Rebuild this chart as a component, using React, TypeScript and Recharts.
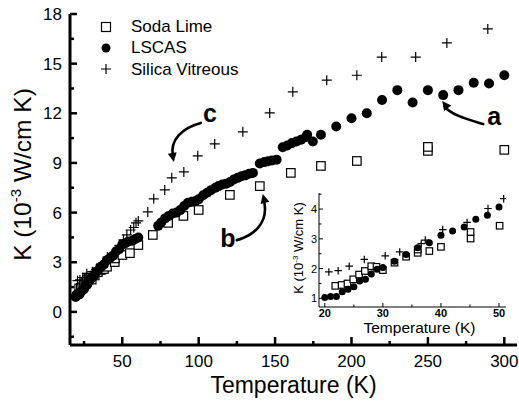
import {
  ScatterChart, Scatter, XAxis, YAxis, Legend, ReferenceDot, Label,
} from 'recharts';

const FONT = 'Arial, "Liberation Sans", Helvetica, sans-serif';

// Soda Lime (hollow squares): temperature (K), conductivity (1e-3 W/cm K)
const sodaT = [21.8, 22.9, 23.9, 24.9, 25.9, 26.9, 28, 28.9, 30, 32, 34, 36, 36, 38, 40, 45.1, 45.1, 50.1,
  55, 60.5, 70, 80, 90, 100, 120.4, 140, 160.3, 180, 203.5, 250, 250, 300];
const sodaK = [1.42, 1.45, 1.5, 1.64, 1.8, 1.92, 2.08, 2.06, 1.95, 2.2, 2.4, 2.53, 2.64, 2.59, 2.73, 3.01, 3.23, 3.44,
  3.55, 4.04, 4.65, 5.38, 5.8, 6.16, 7.07, 7.6, 8.4, 8.82, 9.12, 9.73, 9.97, 9.79];

// LSCAS (filled circles)
const lscasT = [19.5, 20, 21, 22, 23, 24, 25, 26, 27, 28, 29, 30, 32, 34, 36, 38, 40, 42, 44, 46, 48, 50,
  52, 54, 56.5, 58.5, 60.5,
  73.5, 75.5, 78, 80.5, 83, 85.5, 88, 90.5, 93, 95.5, 98, 100, 103, 105.5, 108, 111, 113, 115.5, 118,
  120.5, 123, 125.5, 128, 130.5, 133, 135.5, 140, 143, 145.5, 148, 151, 155, 158, 161, 164, 167, 170,
  171, 174.7, 180, 190, 200, 210, 220, 230, 240, 250, 260, 270, 280, 290, 300];
const lscasK = [0.9, 1.03, 1.06, 1.06, 1.22, 1.31, 1.39, 1.58, 1.64, 1.82, 1.98, 2.04, 2.25, 2.47, 2.7, 2.87, 3.12, 3.26, 3.4, 3.66, 3.79, 4.07,
  4.15, 4.25, 4.3, 4.4, 4.5,
  5.2, 5.4, 5.65, 5.8, 5.95, 6.0, 6.15, 6.4, 6.6, 6.65, 6.7, 6.8, 7.05, 7.2, 7.35, 7.5, 7.6, 7.7, 7.75,
  7.85, 8.0, 8.1, 8.2, 8.25, 8.35, 8.4, 8.97, 9.05, 9.1, 9.15, 9.2, 9.95, 10.05, 10.2, 10.3, 10.4, 10.55,
  10.7, 10.3, 10.7, 11.2, 11.7, 12.0, 12.8, 13.4, 12.65, 13.4, 13.1, 13.4, 13.85, 13.8, 14.3];

// Silica Vitreous (plus)
const silicaT = [20.7, 22.3, 24.2, 26.8, 30.4, 32.9, 36.6, 37.3, 40.3, 44.5, 48.1, 50.8,
  53, 55.5, 57.5, 59, 60.5, 66.7, 70.6, 77.8, 82.4, 90.3, 99.4, 110.5, 128.9, 146.5, 161.6,
  183.8, 203.5, 219.8, 242, 262.4, 289.2];
const silicaK = [1.89, 1.93, 2.08, 2.31, 2.43, 2.56, 2.84, 2.96, 3.31, 3.55, 4.02, 4.35,
  4.65, 4.95, 5.1, 5.38, 5.5, 6.04, 6.83, 7.37, 8.1, 8.46, 9.43, 10.15, 10.88, 12.02, 13.3,
  14.0, 14.3, 15.4, 15.4, 16.25, 17.1];

const seriesNames = ['Soda Lime', 'LSCAS', 'Silica Vitreous'];

const mainXTicks = [25, 50, 75, 100, 125, 150, 175, 200, 225, 250, 275, 300];
const mainYTicks = [-1.5, 0, 1.5, 3, 4.5, 6, 7.5, 9, 10.5, 12, 13.5, 15, 16.5, 18];
const insetXTicks = [20, 25, 30, 35, 40, 45, 50];
const insetYTicks = [1, 1.5, 2, 2.5, 3, 3.5, 4, 4.5];

const INSET_MIN_T = 19.5;
const INSET_MAX_T = 51.2;

const pts = (ts: number[], ks: number[]) => ts.map((t, i) => ({ t, k: ks[i] }));
const sodaData = pts(sodaT, sodaK);
const lscasData = pts(lscasT, lscasK);
const silicaData = pts(silicaT, silicaK);
const zoomIn = (d: { t: number; k: number }[]) => d.filter(p => p.t >= INSET_MIN_T + 0.3 && p.t <= INSET_MAX_T);

type Kind = 'square' | 'circle' | 'plus';
const KIND: Record<string, Kind> = { 'Soda Lime': 'square', 'LSCAS': 'circle', 'Silica Vitreous': 'plus' };

function Marker({ kind, cx, cy, s }: { kind: Kind; cx: number; cy: number; s: number }) {
  if (kind === 'square') {
    return <rect x={cx - s / 2} y={cy - s / 2} width={s} height={s} fill="#fff" stroke="#000" strokeWidth={1.2} />;
  }
  if (kind === 'circle') return <circle cx={cx} cy={cy} r={s / 2} fill="#000" />;
  return <path d={`M${cx - s / 2},${cy}H${cx + s / 2}M${cx},${cy - s / 2}V${cy + s / 2}`} stroke="#000" strokeWidth={1.2} fill="none" />;
}
const shapeOf = (kind: Kind, s: number) => (p: any) => <Marker kind={kind} cx={p.cx} cy={p.cy} s={s} />;

type Side = 'bottom' | 'left' | 'top' | 'right';
// inward ticks, major/minor, optional label
const makeTick = (side: Side, isMajor: (v: number) => boolean, major: number, minor: number, sw: number,
  label?: { size: number; gap: number; weight?: string }) => (props: any) => {
  const { x, y, payload } = props;
  const v = payload.value as number;
  const m = isMajor(v);
  const len = m ? major : minor;
  const d = side === 'bottom' ? `M${x},${y}V${y - len}`
    : side === 'top' ? `M${x},${y}V${y + len}`
    : side === 'left' ? `M${x},${y}H${x + len}`
    : `M${x},${y}H${x - len}`;
  return (
    <g>
      <path d={d} stroke="#000" strokeWidth={sw} />
      {label && m && (side === 'bottom'
        ? <text x={x} y={y + label.gap} textAnchor="middle" fontSize={label.size} fontWeight={label.weight} fontFamily={FONT} fill="#000">{v}</text>
        : <text x={x - label.gap} y={y} dy="0.36em" textAnchor="end" fontSize={label.size} fontWeight={label.weight} fontFamily={FONT} fill="#000">{v}</text>)}
    </g>
  );
};

const YTitle = ({ viewBox, size, sup, dx, dy }: any) => {
  const cx = viewBox.x + dx;
  const cy = viewBox.y + viewBox.height / 2 + dy;
  return (
    <text x={cx} y={cy} transform={`rotate(-90 ${cx} ${cy})`} textAnchor="middle" fontFamily={FONT} fontSize={size} fill="#000">
      K (10<tspan dy={-size * 0.4} fontSize={sup}>-3</tspan><tspan dy={size * 0.4}> W/cm K)</tspan>
    </text>
  );
};

const head = (tx: number, ty: number, dx: number, dy: number, len = 9, w = 4.5) => {
  const L = Math.hypot(dx, dy);
  const ux = dx / L, uy = dy / L;
  const bx = tx - ux * len, by = ty - uy * len;
  return `${tx},${ty} ${bx - uy * w},${by + ux * w} ${bx + uy * w},${by - ux * w}`;
};

// arrow + letter, drawn relative to the data point it points at
const callout = (letter: string, d: string, tip: [number, number], dir: [number, number], at: [number, number]) => (p: any) => {
  const { cx, cy } = p;
  return (
    <g>
      <path d={d} transform={`translate(${cx},${cy})`} fill="none" stroke="#000" strokeWidth={2.6} strokeLinecap="round" />
      <polygon points={head(cx + tip[0], cy + tip[1], dir[0], dir[1])} fill="#000" />
      <text x={cx + at[0]} y={cy + at[1]} textAnchor="middle" fontSize={25} fontWeight="bold" fontFamily={FONT} fill="#000">{letter}</text>
    </g>
  );
};

const LegendBox = ({ payload }: any) => {
  const items = [...(payload || [])].sort((a: any, b: any) => seriesNames.indexOf(a.value) - seriesNames.indexOf(b.value));
  return (
    <div style={{ fontFamily: FONT, fontSize: 17, color: '#000' }}>
      {items.map((e: any) => (
        <div key={e.value} style={{ display: 'flex', alignItems: 'center', height: 21.3 }}>
          <svg width={18} height={14}><Marker kind={KIND[e.value]} cx={9} cy={7} s={KIND[e.value] === 'plus' ? 10 : 9} /></svg>
          <span style={{ marginLeft: 16, lineHeight: '21px' }}>{e.value}</span>
        </div>
      ))}
    </div>
  );
};

export default function App() {
  const axisLine = { stroke: '#000', strokeWidth: 3 };
  const thin = { stroke: '#000', strokeWidth: 1 };
  return (
    <div style={{ position: 'absolute', left: 0, top: 0, width: 519, height: 403, background: '#fff' }}>
      <ScatterChart width={519} height={403} margin={{ top: 14, right: 2, bottom: 0, left: 0 }}>
        <XAxis type="number" dataKey="t" domain={[15.8, 308.3]} ticks={mainXTicks} interval={0} allowDataOverflow
          height={58} tickSize={0} tickMargin={0} tickLine={false} axisLine={axisLine}
          tick={makeTick('bottom', v => v % 50 === 0, 8, 4, 2.5, { size: 17, gap: 22 })}>
          <Label value="Temperature (K)" position="insideBottom" offset={10} style={{ fontSize: 23, fontFamily: FONT, fill: '#000' }} />
        </XAxis>
        <XAxis xAxisId="top" orientation="top" type="number" domain={[15.8, 308.3]} height={0} tick={false} tickLine={false} axisLine={axisLine} />
        <YAxis type="number" dataKey="k" domain={[-2, 18]} ticks={mainYTicks} interval={0} allowDataOverflow
          width={70} tickSize={0} tickMargin={0} tickLine={false} axisLine={axisLine}
          tick={makeTick('left', v => Math.abs(v % 3) < 1e-9, 7, 4, 2.5, { size: 17, gap: 8 })}>
          <Label content={(p: any) => <YTitle viewBox={p.viewBox} size={24.5} sup={15} dx={31} dy={-5} />} />
        </YAxis>
        <YAxis yAxisId="right" orientation="right" type="number" domain={[-2, 18]} width={0} tick={false} tickLine={false} axisLine={{ stroke: '#000', strokeWidth: 2 }} />
        <Legend layout="vertical" align="center" verticalAlign="middle" wrapperStyle={{ left: 97, top: 16, width: 'auto', height: 'auto' }} content={(p: any) => <LegendBox payload={p.payload} />} />
        <Scatter name="Soda Lime" data={sodaData} shape={shapeOf('square', 8.5)} isAnimationActive={false} />
        <Scatter name="LSCAS" data={lscasData} shape={shapeOf('circle', 10)} isAnimationActive={false} />
        <Scatter name="Silica Vitreous" data={silicaData} shape={shapeOf('plus', 10)} isAnimationActive={false} />
        <ReferenceDot x={260} y={lscasK[lscasT.indexOf(260)]} r={5} ifOverflow="visible"
          shape={callout('a', 'M40,29 C24,24 8,20 1,11', [-1, 6], [-7, -9], [51, 30])} />
        <ReferenceDot x={140} y={sodaK[sodaT.indexOf(140)]} r={5} ifOverflow="visible"
          shape={callout('b', 'M-23,54 C-8,50 10,38 4,14', [3, 8], [-6, -24], [-32, 61])} />
        <ReferenceDot x={90.3} y={silicaK[silicaT.indexOf(90.3)]} r={5} ifOverflow="visible"
          shape={callout('c', 'M17,-49 C-2,-44 -14,-32 -11,-16', [-10, -10], [3, 16], [26, -50])} />
      </ScatterChart>

      <div style={{ position: 'absolute', left: 285, top: 185 }}>
        <ScatterChart width={230} height={155} margin={{ top: 8, right: 9, bottom: 0, left: 0 }}>
          <XAxis type="number" dataKey="t" domain={[19, INSET_MAX_T]} ticks={insetXTicks} interval={0} allowDataOverflow
            height={33} tickSize={0} tickMargin={0} tickLine={false} axisLine={thin}
            tick={makeTick('bottom', v => v % 10 === 0, 4, 2.5, 1, { size: 11, gap: 10, weight: 'bold' })}>
            <Label value="Temperature (K)" position="insideBottom" offset={7} dx={7} style={{ fontSize: 15.5, fontFamily: FONT, fill: '#000' }} />
          </XAxis>
          <XAxis xAxisId="top" orientation="top" type="number" domain={[19, INSET_MAX_T]} ticks={insetXTicks} interval={0}
            height={0} tickSize={0} tickMargin={0} tickLine={false} axisLine={thin}
            tick={makeTick('top', v => v % 10 === 0, 4, 2.5, 1)} />
          <YAxis type="number" dataKey="k" domain={[0.71, 4.54]} ticks={insetYTicks} interval={0} allowDataOverflow
            width={34} tickSize={0} tickMargin={0} tickLine={false} axisLine={thin}
            tick={makeTick('left', v => Number.isInteger(v), 4, 2.5, 1, { size: 11, gap: 2 })}>
            <Label content={(p: any) => <YTitle viewBox={p.viewBox} size={13} sup={8} dx={18} dy={-2} />} />
          </YAxis>
          <YAxis yAxisId="right" orientation="right" type="number" domain={[0.71, 4.54]} ticks={insetYTicks} interval={0}
            width={0} tickSize={0} tickMargin={0} tickLine={false} axisLine={thin}
            tick={makeTick('right', v => Number.isInteger(v), 4, 2.5, 1)} />
          <Scatter name="Soda Lime" data={zoomIn(sodaData)} shape={shapeOf('square', 6.5)} isAnimationActive={false} />
          <Scatter name="LSCAS" data={zoomIn(lscasData)} shape={shapeOf('circle', 7)} isAnimationActive={false} />
          <Scatter name="Silica Vitreous" data={zoomIn(silicaData)} shape={shapeOf('plus', 7.5)} isAnimationActive={false} />
        </ScatterChart>
      </div>
    </div>
  );
}
